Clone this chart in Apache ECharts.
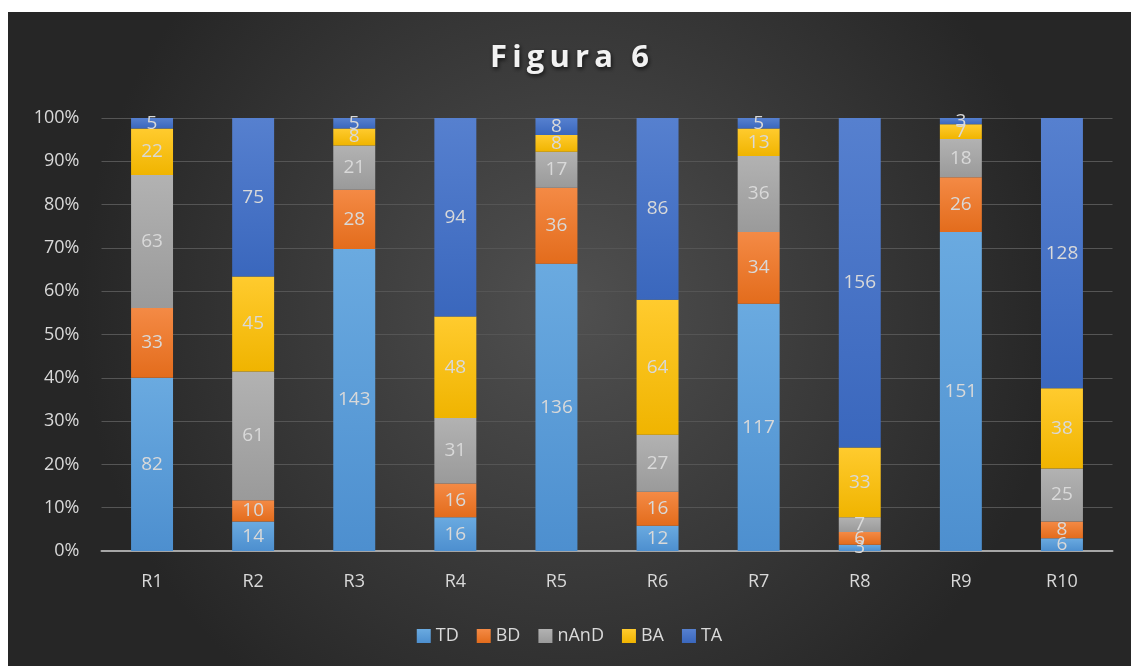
<!DOCTYPE html>
<html>
<head>
<meta charset="utf-8">
<script src="https://cdn.jsdelivr.net/npm/echarts@6/dist/echarts.min.js"></script>
<style>
  html, body { margin: 0; padding: 0; background: #ffffff; }
  #chart { position: absolute; left: 8px; top: 12px; width: 1123px; height: 654px; }
</style>
</head>
<body>
<div id="chart"></div>
<script>
// Counts per region, one array per response group
const categories = ['R1', 'R2', 'R3', 'R4', 'R5', 'R6', 'R7', 'R8', 'R9', 'R10'];
const seriesNames = ['TD', 'BD', 'nAnD', 'BA', 'TA'];
const TD   = [82, 14, 143, 16, 136, 12, 117, 3, 151, 6];
const BD   = [33, 10, 28, 16, 36, 16, 34, 6, 26, 8];
const nAnD = [63, 61, 21, 31, 17, 27, 36, 7, 18, 25];
const BA   = [22, 45, 8, 48, 8, 64, 13, 33, 7, 38];
const TA   = [5, 75, 5, 94, 8, 86, 5, 156, 3, 128];
const yTicks = [0, 10, 20, 30, 40, 50, 60, 70, 80, 90, 100];

const raw = [TD, BD, nAnD, BA, TA];
const totals = categories.map((_, i) => raw.reduce((s, arr) => s + arr[i], 0));

const colors = [
  ['#6aaae0', '#4d8fcf'],
  ['#f48a45', '#e36c1c'],
  ['#b2b2b2', '#9a9a9a'],
  ['#ffcb2e', '#f0b400'],
  ['#5680cf', '#3a67bd']
];

function grad(c) {
  return new echarts.graphic.LinearGradient(0, 0, 0, 1, [
    { offset: 0, color: c[0] }, { offset: 1, color: c[1] }
  ]);
}

const series = raw.map((arr, k) => ({
  name: seriesNames[k],
  type: 'bar',
  stack: 'all',
  barWidth: '41.5%',
  data: arr.map((v, i) => ({ value: v / totals[i] * 100, raw: v })),
  itemStyle: { color: grad(colors[k]) },
  label: {
    show: true,
    position: 'inside',
    color: '#d9d9d9',
    fontSize: 19,
    fontFamily: 'Open Sans',
    formatter: p => String(p.data.raw)
  }
}));

// spaced-out title lettering
const titleText = 'Figura 6'.split('').join('\u2009');

const chart = echarts.init(document.getElementById('chart'));
chart.setOption({
  backgroundColor: new echarts.graphic.RadialGradient(0.5, 0.45, 0.75, [
    { offset: 0, color: '#505050' },
    { offset: 1, color: '#262626' }
  ]),
  animation: false,
  title: {
    text: titleText,
    left: 'center',
    top: 26,
    textStyle: {
      color: '#f2f2f2',
      fontSize: 31,
      fontWeight: 'bold',
      fontFamily: 'Open Sans',
      textShadowColor: 'rgba(0,0,0,0.7)',
      textShadowBlur: 4,
      textShadowOffsetX: 1,
      textShadowOffsetY: 2
    }
  },
  legend: {
    data: seriesNames.map(n => ({ name: n, icon: 'rect' })),
    bottom: 16,
    left: 'center',
    itemWidth: 14,
    itemHeight: 14,
    itemGap: 18,
    textStyle: { color: '#d9d9d9', fontSize: 18, fontFamily: 'Open Sans' }
  },
  grid: { left: 93.5, top: 106, width: 1011, height: 433, containLabel: false },
  xAxis: {
    type: 'category',
    data: categories,
    axisLine: { lineStyle: { color: '#a6a6a6', width: 2 } },
    axisTick: { show: false },
    axisLabel: { color: '#d9d9d9', fontSize: 18, fontFamily: 'Open Sans', margin: 22 }
  },
  yAxis: {
    type: 'value',
    min: 0,
    max: 100,
    interval: 10,
    axisLine: { show: false },
    axisTick: { show: false },
    splitLine: { lineStyle: { color: '#555555', width: 1 } },
    axisLabel: {
      color: '#d9d9d9',
      fontSize: 18,
      fontFamily: 'Open Sans',
      margin: 22,
      formatter: v => (yTicks.includes(v) ? v + '%' : '')
    }
  },
  series: series
});
</script>
</body>
</html>
